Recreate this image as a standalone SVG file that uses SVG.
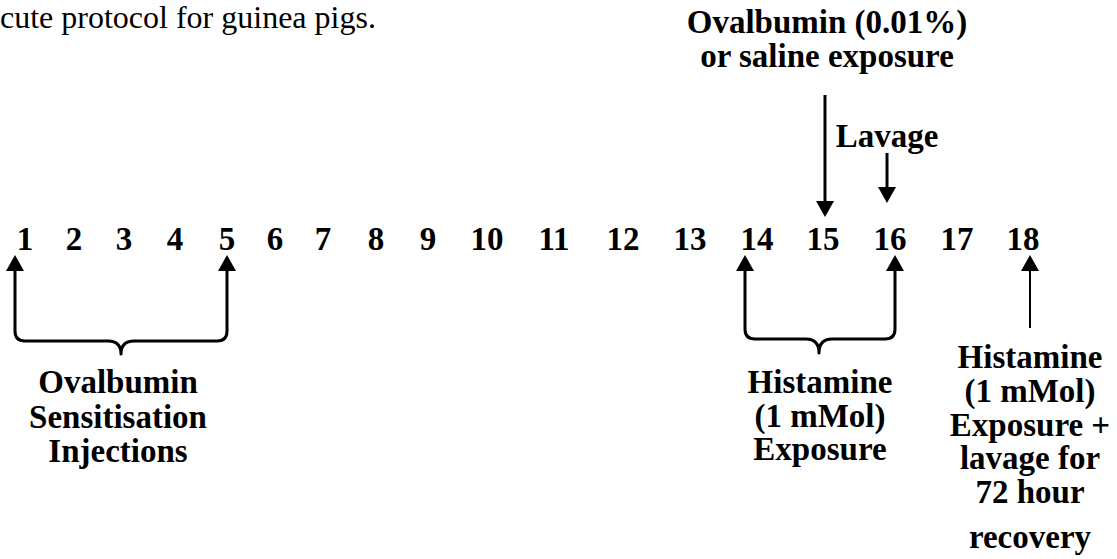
<svg xmlns="http://www.w3.org/2000/svg" width="1117" height="559" viewBox="0 0 1117 559">
<style>
text{font-family:"Liberation Serif","Times New Roman",serif;fill:#000}
.t{font-size:32px}
.n{font-size:33px;font-weight:bold;text-anchor:middle}
.l{font-size:33px;font-weight:bold;text-anchor:middle}
.c{fill:none;stroke:#000;stroke-width:3;stroke-linejoin:round}
</style>
<defs>
<marker id="ah" viewBox="0 0 16 18" refX="6" refY="9" markerWidth="16" markerHeight="18" markerUnits="userSpaceOnUse" orient="auto-start-reverse">
<path d="M0,0 L16,9 L0,18 z" fill="#000"/>
</marker>
</defs>
<rect width="1117" height="559" fill="#fff"/>
<text class="t" x="0" y="28">cute protocol for guinea pigs.</text>
<g id="days">
<text class="n" x="25" y="250">1</text>
<text class="n" x="74" y="250">2</text>
<text class="n" x="124" y="250">3</text>
<text class="n" x="175" y="250">4</text>
<text class="n" x="227" y="250">5</text>
<text class="n" x="275" y="250">6</text>
<text class="n" x="323" y="250">7</text>
<text class="n" x="376" y="250">8</text>
<text class="n" x="428" y="250">9</text>
<text class="n" x="487" y="250">10</text>
<text class="n" x="554" y="250">11</text>
<text class="n" x="623" y="250">12</text>
<text class="n" x="690" y="250">13</text>
<text class="n" x="757" y="250">14</text>
<text class="n" x="823" y="250">15</text>
<text class="n" x="890" y="250">16</text>
<text class="n" x="957" y="250">17</text>
<text class="n" x="1023" y="250">18</text>
</g>
<g id="ovalbumin-exposure">
<text class="l" x="827" y="33">Ovalbumin (0.01%)</text>
<text class="l" x="827" y="67">or saline exposure</text>
</g>
<g id="lavage">
<text class="l" x="887" y="147">Lavage</text>
</g>
<g id="sensitisation">
<text class="l" x="118" y="393">Ovalbumin</text>
<text class="l" x="118" y="428">Sensitisation</text>
<text class="l" x="118" y="462">Injections</text>
</g>
<g id="histamine-exposure">
<text class="l" x="820" y="393">Histamine</text>
<text class="l" x="820" y="427">(1 mMol)</text>
<text class="l" x="820" y="460">Exposure</text>
</g>
<g id="histamine-recovery">
<text class="l" x="1030" y="368">Histamine</text>
<text class="l" x="1030" y="402">(1 mMol)</text>
<text class="l" x="1030" y="436">Exposure +</text>
<text class="l" x="1030" y="469">lavage for</text>
<text class="l" x="1030" y="503">72 hour</text>
<text class="l" x="1030" y="548">recovery</text>
</g>
<g id="connectors">
<path class="c" d="M15,265 V331 Q15,341 25,341 H108 Q121,341 121,354 Q121,341 134,341 H217 Q227,341 227,331 V265" marker-start="url(#ah)" marker-end="url(#ah)"/>
<path class="c" d="M745,265 V329 Q745,339 755,339 H806 Q819,339 819,353 Q819,339 832,339 H885 Q895,339 895,329 V265" marker-start="url(#ah)" marker-end="url(#ah)"/>
<path class="c" d="M825,95 V207" marker-end="url(#ah)"/>
<path class="c" d="M887,153 V193" marker-end="url(#ah)"/>
<path class="c" style="stroke-width:2" d="M1030,328 V265" marker-end="url(#ah)"/>
</g>
</svg>
